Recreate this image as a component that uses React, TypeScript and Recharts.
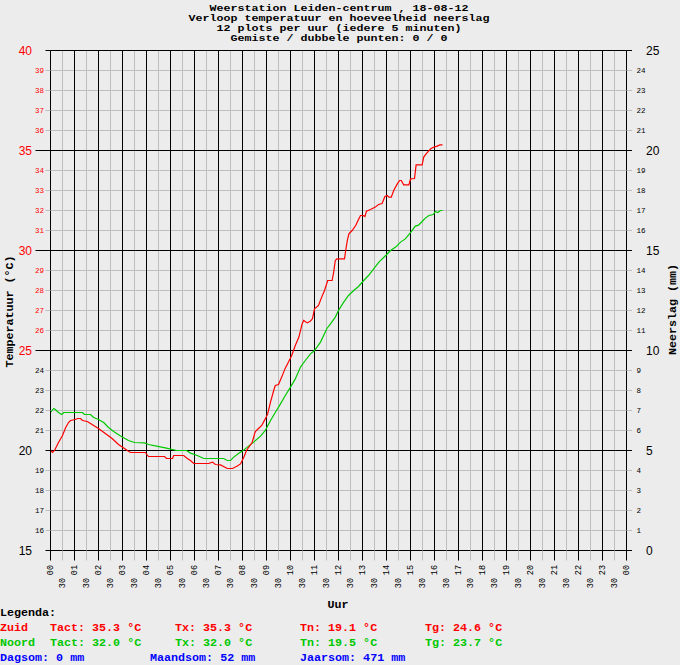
import React from 'react';
import { LineChart, Line, XAxis, YAxis, CartesianGrid } from 'recharts';

const titleLines = [
  'Weerstation Leiden-centrum , 18-08-12',
  'Verloop temperatuur en hoeveelheid neerslag',
  '12 plots per uur (iedere 5 minuten)',
  'Gemiste / dubbele punten: 0 / 0',
];

// Zuid (red) sensor: minutes after midnight and temperature (°C)
const zuidMinutes = [
  0, 5, 10, 20, 30, 38, 45, 50, 62, 68, 75, 80, 92, 104, 120, 137, 154, 170, 185, 192,
  200, 237, 245, 285, 290, 305, 308, 333, 342, 350, 358, 395, 405, 412, 425, 442, 455, 467, 475, 483,
  490, 497, 504, 512, 520, 528, 537, 543, 550, 558, 562, 570, 578, 586, 595, 603, 612, 621, 629, 633,
  642, 650, 655, 660, 670, 678, 685, 693, 704, 708, 712, 716, 735, 738, 742, 746, 754, 763, 767, 775,
  782, 786, 790, 800, 812, 820, 829, 836, 842, 846, 852, 858, 867, 873, 877, 883, 896, 900, 910, 914,
  929, 933, 939, 950, 958, 967, 973, 980,
];
const zuidTemps = [
  20.0, 19.9, 20.0, 20.4, 20.75, 21.15, 21.4, 21.5, 21.55, 21.6, 21.6, 21.5, 21.45, 21.3, 21.1, 20.85, 20.6, 20.3, 20.1, 20.0,
  19.9, 19.9, 19.7, 19.7, 19.6, 19.6, 19.75, 19.75, 19.6, 19.5, 19.35, 19.35, 19.42, 19.3, 19.28, 19.1, 19.1, 19.22, 19.33, 19.65,
  20.0, 20.2, 20.4, 20.95, 21.1, 21.25, 21.58, 21.83, 22.42, 23.0, 23.25, 23.3, 23.67, 24.08, 24.42, 24.75, 25.25, 25.67, 26.33, 26.5,
  26.38, 26.47, 26.6, 27.08, 27.25, 27.67, 28.0, 28.5, 28.5, 28.92, 29.5, 29.58, 29.58, 30.0, 30.5, 30.83, 31.0, 31.25, 31.42, 31.75,
  31.75, 31.7, 31.97, 32.05, 32.17, 32.3, 32.35, 32.7, 32.75, 32.67, 32.67, 33.0, 33.33, 33.5, 33.5, 33.28, 33.28, 33.58, 33.6, 34.28,
  34.28, 34.67, 34.83, 35.08, 35.17, 35.22, 35.28, 35.28,
];

// Noord (green) sensor
const noordMinutes = [
  0, 8, 12, 20, 28, 33, 80, 85, 100, 108, 120, 133, 145, 158, 175, 195, 210, 235, 245, 265,
  290, 315, 340, 350, 367, 383, 433, 442, 450, 458, 475, 480, 492, 508, 525, 537, 550, 562, 575, 587,
  600, 612, 625, 637, 650, 660, 675, 691, 700, 712, 720, 733, 745, 758, 770, 783, 795, 808, 821, 838,
  850, 863, 875, 887, 901, 912, 920, 929, 937, 946, 957, 962, 968, 975, 980,
];
const noordTemps = [
  21.9, 22.1, 22.05, 21.9, 21.8, 21.9, 21.9, 21.8, 21.8, 21.65, 21.55, 21.4, 21.15, 20.95, 20.72, 20.5, 20.4, 20.38, 20.3, 20.22,
  20.12, 20.0, 20.0, 19.87, 19.75, 19.6, 19.6, 19.5, 19.5, 19.67, 19.92, 19.97, 20.17, 20.42, 20.72, 21.0, 21.5, 21.9, 22.33, 22.75,
  23.17, 23.58, 24.17, 24.5, 24.83, 25.0, 25.42, 26.1, 26.33, 26.67, 27.0, 27.42, 27.75, 28.0, 28.2, 28.5, 28.75, 29.08, 29.42, 29.75,
  30.0, 30.17, 30.42, 30.58, 30.92, 31.22, 31.27, 31.45, 31.62, 31.75, 31.8, 31.95, 31.9, 32.0, 32.0,
];

// Neerslag (rain, mm): no rain today (Dagsom 0 mm)
const rainMinutes = [0, 980];
const rainValues = [0, 0];

const hourLabels = [
  '00', '01', '02', '03', '04', '05', '06', '07', '08', '09', '10', '11',
  '12', '13', '14', '15', '16', '17', '18', '19', '20', '21', '22', '23', '00',
];
const tempTicks = [15, 16, 17, 18, 19, 20, 21, 22, 23, 24, 25, 26, 27, 28, 29, 30, 31, 32, 33, 34, 35, 36, 37, 38, 39, 40];
const tempMajor = [15, 20, 25, 30, 35, 40];
const rainTicks = [0, 1, 2, 3, 4, 5, 6, 7, 8, 9, 10, 11, 12, 13, 14, 15, 16, 17, 18, 19, 20, 21, 22, 23, 24, 25];

const legendZuid = ['Tact: 35.3 °C', 'Tx: 35.3 °C', 'Tn: 19.1 °C', 'Tg: 24.6 °C'];
const legendNoord = ['Tact: 32.0 °C', 'Tx: 32.0 °C', 'Tn: 19.5 °C', 'Tg: 23.7 °C'];
const legendRain = ['Dagsom: 0 mm', 'Maandsom: 52 mm', 'Jaarsom: 471 mm'];

const zuidData = zuidMinutes.map((m, i) => ({ t: m / 60, v: zuidTemps[i] }));
const noordData = noordMinutes.map((m, i) => ({ t: m / 60, v: noordTemps[i] }));
const rainData = rainMinutes.map((m, i) => ({ t: m / 60, r: rainValues[i] }));
const hourTicks = hourLabels.map((_, i) => i);
const halfTicks: number[] = [];
hourLabels.forEach((_, i) => {
  halfTicks.push(i);
  if (i < hourLabels.length - 1) halfTicks.push(i + 0.5);
});

const BG = '#ececec';
const GRID = '#bebebe';
const RED = '#ff0000';
const GREEN = '#00c800';
const BLUE = '#0000ff';
const MONO = '"Liberation Mono", "DejaVu Sans Mono", monospace';
const SANS = '"Liberation Sans", "DejaVu Sans", sans-serif';
const CHAR_W = 7;

function LeftTick(props: any) {
  const { x, y, payload } = props;
  const v = payload.value as number;
  const major = v % 5 === 0;
  const long = v === 25 || v === 30 || v === 35;
  const color = v >= 25 ? RED : '#000000';
  return (
    <g>
      <line x1={major && long ? x - 15 : x - 5} x2={x} y1={y} y2={y} stroke={major ? '#000' : GRID} />
      <text
        x={major ? x - 18.5 : x - 6.5}
        y={y}
        textAnchor="end"
        dominantBaseline="central"
        fill={color}
        fontSize={major ? 12 : 7.5}
        fontFamily={major ? SANS : MONO}
      >
        {v}
      </text>
    </g>
  );
}

function RightTick(props: any) {
  const { x, y, payload } = props;
  const v = payload.value as number;
  const major = v % 5 === 0;
  return (
    <g>
      <line x1={x} x2={x + 5.5} y1={y} y2={y} stroke={major ? '#000' : GRID} />
      <text
        x={major ? x + 19.5 : x + 10}
        y={y}
        textAnchor="start"
        dominantBaseline="central"
        fill="#000"
        fontSize={major ? 12 : 7.5}
        fontFamily={major ? SANS : MONO}
      >
        {v}
      </text>
    </g>
  );
}

function BottomTick(props: any) {
  const { x, y, payload } = props;
  const v = payload.value as number;
  const isHour = Number.isInteger(v);
  const label = isHour ? hourLabels[v] : '30';
  return (
    <g>
      <line x1={x} x2={x} y1={y} y2={y + 10} stroke={isHour ? '#000' : GRID} />
      <text
        transform={`translate(${x},${isHour ? y + 14.5 : y + 27.5}) rotate(-90)`}
        textAnchor="end"
        dominantBaseline="central"
        fill="#000"
        fontSize={8.5}
        fontFamily={MONO}
      >
        {label}
      </text>
    </g>
  );
}

export default function App() {
  return (
    <div style={{ position: 'absolute', left: 0, top: 0, width: 680, height: 665, background: BG, overflow: 'hidden' }}>
      <LineChart width={680} height={665} margin={{ top: 50.5, left: 0.5, right: 0, bottom: 0.5 }}>
        <CartesianGrid yAxisId="t" stroke={GRID} horizontalValues={tempTicks} verticalValues={halfTicks} />
        <CartesianGrid yAxisId="t" stroke="#000" horizontalValues={tempMajor} verticalValues={hourTicks} />
        <XAxis
          dataKey="t"
          type="number"
          domain={[0, 24]}
          ticks={halfTicks}
          interval={0}
          allowDataOverflow
          height={114}
          tickSize={0}
          tickMargin={0}
          tickLine={false}
          axisLine={{ stroke: '#000' }}
          tick={<BottomTick />}
        />
        <YAxis
          yAxisId="t"
          type="number"
          domain={[15, 40]}
          ticks={tempTicks}
          interval={0}
          width={50}
          tickSize={0}
          tickMargin={0}
          tickLine={false}
          axisLine={{ stroke: '#000' }}
          tick={<LeftTick />}
        />
        <YAxis
          yAxisId="r"
          orientation="right"
          type="number"
          domain={[0, 25]}
          ticks={rainTicks}
          interval={0}
          width={53.5}
          tickSize={0}
          tickMargin={0}
          tickLine={false}
          axisLine={{ stroke: '#000' }}
          tick={<RightTick />}
        />
        <Line yAxisId="r" data={rainData} dataKey="r" type="linear" stroke="none" dot={false} isAnimationActive={false} />
        <Line yAxisId="t" data={noordData} dataKey="v" type="linear" stroke={GREEN} strokeWidth={1.2} dot={false} isAnimationActive={false} />
        <Line yAxisId="t" data={zuidData} dataKey="v" type="linear" stroke={RED} strokeWidth={1.2} dot={false} isAnimationActive={false} />
      </LineChart>
      <svg width={680} height={665} style={{ position: 'absolute', left: 0, top: 0, pointerEvents: 'none' }}>
        <g fontFamily={MONO} fontWeight="bold">
          {titleLines.map((t, i) => (
            <text
              key={i}
              x={339}
              y={10.5 + i * 10}
              textAnchor="middle"
              fill="#000"
              fontSize={8.8}
              textLength={t.length * CHAR_W}
              lengthAdjust="spacingAndGlyphs"
            >
              {t}
            </text>
          ))}
        </g>
        <g fontFamily={MONO} fontWeight="bold" fontSize={11.7}>
          <text transform="translate(10,311.5) rotate(-90)" textAnchor="middle" dominantBaseline="central" fill="#000">
            Temperatuur (°C)
          </text>
          <text transform="translate(673,309.5) rotate(-90)" textAnchor="middle" dominantBaseline="central" fill="#000">
            Neerslag (mm)
          </text>
          <text x={338} y={608} textAnchor="middle" fill="#000">Uur</text>
          <text x={0} y={616} fill="#000">Legenda:</text>
          <text x={0} y={631} fill={RED}>Zuid</text>
          {legendZuid.map((t, i) => (
            <text key={i} x={50 + i * 125} y={631} fill={RED}>{t}</text>
          ))}
          <text x={0} y={646} fill={GREEN}>Noord</text>
          {legendNoord.map((t, i) => (
            <text key={i} x={50 + i * 125} y={646} fill={GREEN}>{t}</text>
          ))}
          {legendRain.map((t, i) => (
            <text key={i} x={i * 150} y={661} fill={BLUE}>{t}</text>
          ))}
        </g>
      </svg>
    </div>
  );
}
